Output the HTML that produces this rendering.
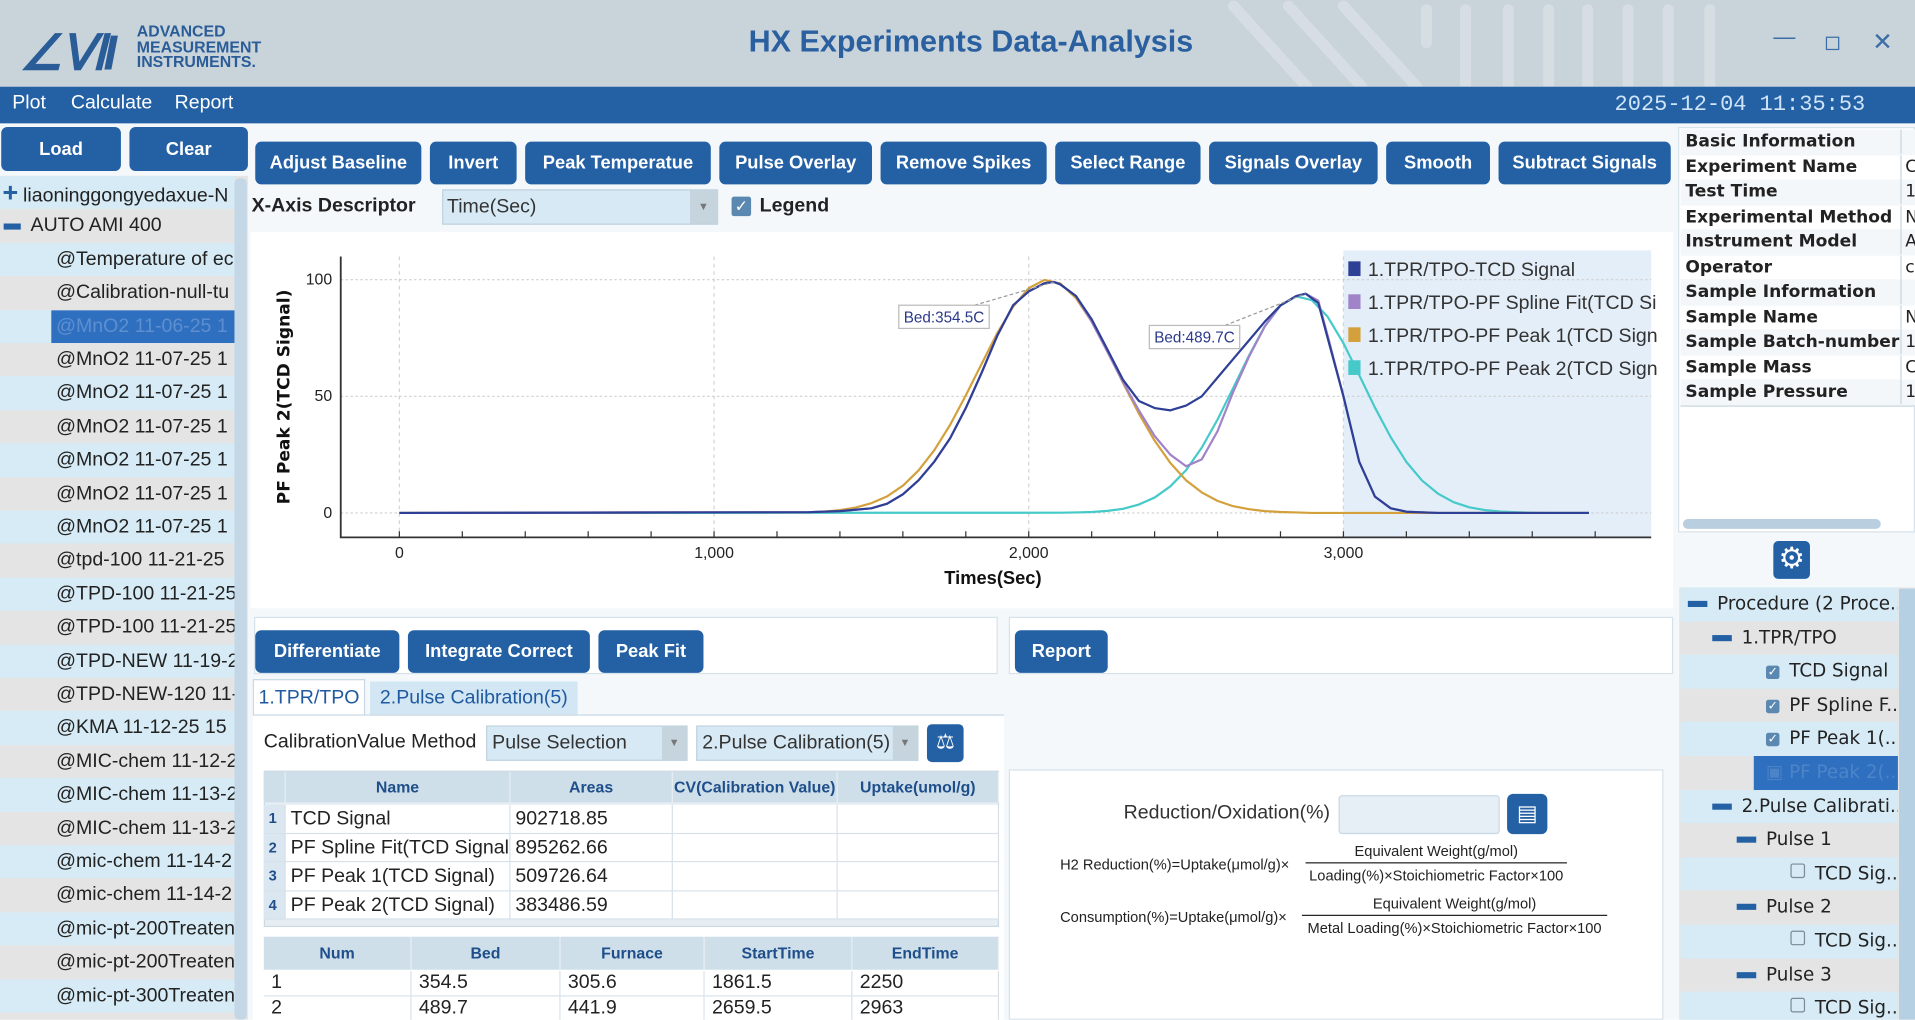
<!DOCTYPE html>
<html><head><meta charset="utf-8">
<style>
html,body{margin:0;padding:0;width:1915px;height:1020px;overflow:hidden;background:#fff;}
#root{position:absolute;left:0;top:0;width:1568px;height:835.2px;transform:scale(1.22130);transform-origin:0 0;font-family:"Liberation Sans Narrow","Liberation Sans",sans-serif;background:#f4f8fb;overflow:hidden;}
.a{position:absolute;box-sizing:border-box;}
.btn{position:absolute;box-sizing:border-box;background:#2360a4;color:#fff;font-weight:bold;font-size:15px;border-radius:5px;display:flex;align-items:center;justify-content:center;white-space:nowrap;}
.row{position:absolute;left:0;width:192px;height:27.4px;font-size:16px;color:#222;line-height:27px;white-space:nowrap;overflow:hidden;}
.info{position:absolute;left:1376px;width:192px;height:20.5px;font-family:"DejaVu Sans",sans-serif;font-weight:bold;font-size:14px;line-height:20px;color:#222;white-space:nowrap;overflow:hidden;border-bottom:1px solid #c9d6e0;}
.tr{position:absolute;left:1376px;width:178px;height:27.6px;font-family:"DejaVu Sans",sans-serif;font-size:15px;line-height:27px;color:#222;white-space:nowrap;overflow:hidden;}
.cell{position:absolute;box-sizing:border-box;font-size:16px;color:#222;white-space:nowrap;overflow:hidden;}
.hd{position:absolute;box-sizing:border-box;font-size:13px;font-weight:bold;color:#1f4f8a;text-align:center;white-space:nowrap;overflow:hidden;}
.fm{position:absolute;box-sizing:border-box;font-size:12px;color:#222;white-space:nowrap;}
</style></head><body>
<div id="root">
<div class="a" style="left:0;top:0;width:1568px;height:71px;background:#c9d3da;">
  <svg class="a" style="left:1000px;top:0" width="470" height="71">
    <g stroke="#d6dee3" stroke-width="9" stroke-linecap="round"><line x1="10" y1="5" x2="70" y2="71"/><line x1="55" y1="5" x2="115" y2="71"/><line x1="100" y1="5" x2="160" y2="71"/><line x1="168" y1="8" x2="168" y2="35"/><line x1="200" y1="8" x2="200" y2="71"/><line x1="235" y1="8" x2="235" y2="71"/><line x1="268" y1="8" x2="268" y2="71"/><line x1="300" y1="8" x2="300" y2="71"/><line x1="333" y1="8" x2="333" y2="71"/><line x1="366" y1="8" x2="366" y2="71"/><line x1="400" y1="8" x2="400" y2="71"/></g>
  </svg>
  <div class="a" style="left:16px;top:24px;font-size:40px;font-weight:bold;color:#2a5d98;letter-spacing:-2px;font-style:italic;line-height:40px">∠ⅥI</div>
  <div class="a" style="left:112px;top:20px;font-size:13px;font-weight:bold;color:#2a5d98;line-height:12.5px">ADVANCED<br>MEASUREMENT<br>INSTRUMENTS.</div>
  <div class="a" style="left:560px;top:20px;width:470px;text-align:center;font-size:25px;font-weight:bold;color:#2a5fa0">HX Experiments Data-Analysis</div>
  <div class="a" style="left:1452px;top:20px;font-size:18px;color:#3b6ea8">—</div>
  <div class="a" style="left:1495px;top:30px;width:11px;height:11px;border:1.5px solid #3b6ea8"></div>
  <div class="a" style="left:1533px;top:22px;font-size:20px;color:#3b6ea8">✕</div>
</div>
<div class="a" style="left:0;top:71px;width:1568px;height:30px;background:#2360a4;">
  <span class="a" style="left:10px;top:5px;color:#fff;font-size:16px">Plot</span>
  <span class="a" style="left:58px;top:5px;color:#fff;font-size:16px">Calculate</span>
  <span class="a" style="left:143px;top:5px;color:#fff;font-size:16px">Report</span>
  <span class="a" style="left:1322px;top:5px;color:#cfe4f7;font-size:18px;font-family:'Liberation Mono',monospace">2025-12-04 11:35:53</span>
</div>
<div class="btn" style="left:1px;top:104px;width:98px;height:36px">Load</div>
<div class="btn" style="left:106px;top:104px;width:97px;height:36px">Clear</div>
<div class="a" style="left:0;top:144px;width:203px;height:691px;background:#e4e4e4"></div>
<div class="a" style="left:192px;top:146px;width:10px;height:689px;background:#c3d7e6;border-radius:4px;z-index:2"></div>
<div class="a" style="left:206px;top:160px;font-size:16px;font-weight:bold;color:#222">X-Axis Descriptor</div>
<div class="a" style="left:362px;top:155px;width:226px;height:29px;background:#d7e9f4;border:1px solid #c0d2de;font-size:16px;line-height:27px;padding-left:3px;color:#333">Time(Sec)<span style="position:absolute;right:0;top:0;width:22px;height:27px;background:#c6d4de;color:#777;font-size:9px;text-align:center">▼</span></div>
<div class="a" style="left:599px;top:161px;width:16px;height:16px;background:#5b88b0;border-radius:2px;color:#fff;font-size:13px;line-height:16px;text-align:center">✓</div>
<div class="a" style="left:622px;top:160px;font-size:16px;font-weight:bold;color:#222">Legend</div>
<div class="a" style="left:205px;top:190px;width:1165px;height:308px;background:#fff"></div>
<svg id="chart" class="a" style="left:205px;top:190px" width="1165" height="308" viewBox="205 190 1165 308"></svg>
<div class="a" style="left:1374px;top:104px;width:194px;height:332px;background:#fff;border:1px solid #d8e2ea"></div>
<div class="a" style="left:1378px;top:425px;width:162px;height:8px;background:#b9cfe0;border-radius:4px"></div>
<div class="a" style="left:1452px;top:443px;width:30px;height:31px;background:#2360a4;border-radius:4px;color:#fff;font-size:24px;line-height:30px;text-align:center">⚙</div>
<div class="a" style="left:1375px;top:481px;width:193px;height:354px;background:#e4e4e4"></div>
<div class="a" style="left:1555px;top:482px;width:13px;height:353px;background:#b5cfe3;z-index:2"></div>
<div class="a" style="left:208px;top:505px;width:609px;height:47px;background:#fff;border:1px solid #d6e1ea"></div>
<div class="btn" style="left:209px;top:516px;width:118px;height:35px">Differentiate</div>
<div class="btn" style="left:334px;top:516px;width:149px;height:35px">Integrate Correct</div>
<div class="btn" style="left:490px;top:516px;width:86px;height:35px">Peak Fit</div>
<div class="a" style="left:826px;top:505px;width:544px;height:47px;background:#fff;border:1px solid #d6e1ea"></div>
<div class="btn" style="left:831px;top:516px;width:76px;height:35px">Report</div>
<div class="a" style="left:207px;top:556px;width:92px;height:30px;background:#fff;border:1px solid #c8d8e4;border-bottom:none;font-size:16px;color:#1f5aa0;text-align:center;line-height:30px">1.TPR/TPO</div>
<div class="a" style="left:303px;top:558px;width:170px;height:27px;background:#d3e6f4;font-size:16px;color:#1f5aa0;text-align:center;line-height:27px">2.Pulse Calibration(5)</div>
<div class="a" style="left:207px;top:585px;width:615px;height:250px;background:#fff;border-top:1px solid #c8d8e4"></div>
<div class="a" style="left:216px;top:599px;font-size:16px;color:#222">CalibrationValue Method</div>
<div class="a" style="left:398px;top:594px;width:165px;height:29px;background:#d7e9f4;border:1px solid #c0d2de;font-size:16px;line-height:27px;padding-left:4px;color:#333">Pulse Selection<span style="position:absolute;right:0;top:0;width:20px;height:27px;background:#c6d4de;color:#777;font-size:9px;text-align:center">▼</span></div>
<div class="a" style="left:570px;top:594px;width:182px;height:29px;background:#d7e9f4;border:1px solid #c0d2de;font-size:16px;line-height:27px;padding-left:4px;color:#333">2.Pulse Calibration(5)<span style="position:absolute;right:0;top:0;width:20px;height:27px;background:#c6d4de;color:#777;font-size:9px;text-align:center">▼</span></div>
<div class="a" style="left:759px;top:593px;width:30px;height:31px;background:#2360a4;border-radius:4px;color:#fff;font-size:17px;line-height:30px;text-align:center">⚖</div>
<div class="a" style="left:826px;top:630px;width:536px;height:205px;background:#fff;border:1px solid #d6e1ea"></div>
<div class="a" style="left:920px;top:657px;font-size:16px;color:#333">Reduction/Oxidation(%)</div>
<div class="a" style="left:1096px;top:651px;width:132px;height:32px;background:#e6eff6;border:1px solid #c8d8e4;border-radius:3px"></div>
<div class="a" style="left:1234px;top:650px;width:33px;height:33px;background:#2360a4;border-radius:5px;color:#fff;font-size:18px;line-height:33px;text-align:center">▤</div>
<div class="fm" style="left:868px;top:701px">H2 Reduction(%)=Uptake(μmol/g)×</div>
<div class="fm" style="left:1069px;top:690px;width:214px;text-align:center;border-bottom:1px solid #222;padding-bottom:2px">Equivalent Weight(g/mol)</div>
<div class="fm" style="left:1059px;top:710px;width:234px;text-align:center">Loading(%)×Stoichiometric Factor×100</div>
<div class="fm" style="left:868px;top:744px">Consumption(%)=Uptake(μmol/g)×</div>
<div class="fm" style="left:1066px;top:733px;width:250px;text-align:center;border-bottom:1px solid #222;padding-bottom:2px">Equivalent Weight(g/mol)</div>
<div class="fm" style="left:1056px;top:753px;width:270px;text-align:center">Metal Loading(%)×Stoichiometric Factor×100</div>
</div>
<script>
const xTicks = [0, 1000, 2000, 3000];
const xTickLabels = ["0", "1,000", "2,000", "3,000"];
const yTicks = [0, 50, 100];
const yTickLabels = ["0", "50", "100"];
const seriesNames = ["1.TPR/TPO-TCD Signal", "1.TPR/TPO-PF Spline Fit(TCD Si", "1.TPR/TPO-PF Peak 1(TCD Sign", "1.TPR/TPO-PF Peak 2(TCD Sign"];
const timesTCD = [0,1300,1400,1500,1550,1600,1650,1700,1750,1800,1850,1900,1950,2000,2050,2080,2100,2150,2200,2250,2300,2350,2400,2450,2500,2550,2600,2650,2700,2750,2800,2850,2880,2920,2950,3000,3050,3100,3150,3200,3300,3780];
const valuesTCD = [0,0.3,0.8,2,4,8,14,22,32,45,60,76,89,95,98.5,99,98,93,83,70,57,48,45,44,46,50,58,66,74,82,89,93,94,90,75,50,22,7,2,0.5,0,0];
const timesSpline = [0,1300,1400,1500,1550,1600,1650,1700,1750,1800,1850,1900,1950,2000,2050,2080,2100,2150,2200,2250,2300,2350,2400,2450,2500,2550,2600,2650,2700,2750,2800,2850,2880,2920,2950,3000,3050,3100,3150,3200,3300,3780];
const valuesSpline = [0,0.3,0.8,2,4,8,14,22,32,45,60,76,89,95,98.5,99,98,93,82,69,56,44,33,25,20,23,35,52,67,80,89,93,94,91,76,50,22,7,2,0.5,0,0];
const timesPeak1 = [0,1300,1350,1400,1450,1500,1550,1600,1650,1700,1750,1800,1850,1900,1950,2000,2050,2100,2150,2200,2250,2300,2350,2400,2450,2500,2550,2600,2650,2700,2750,2800,2850,2900,3780];
const valuesPeak1 = [0,0.3,0.6,1.2,2.3,4.2,7.1,11.7,18.2,26.9,37.7,50.4,63.9,77.1,88.4,96.4,99.9,98.4,92.1,82.0,69.3,55.7,42.6,31.0,21.4,14.0,8.8,5.2,2.9,1.6,0.8,0.4,0.2,0,0];
const timesPeak2 = [0,2100,2150,2200,2250,2300,2350,2400,2450,2500,2550,2600,2650,2700,2750,2800,2850,2900,2950,3000,3050,3100,3150,3200,3250,3300,3350,3400,3450,3500,3550,3600,3650,3780];
const valuesPeak2 = [0,0.1,0.2,0.4,0.9,1.8,3.6,6.6,11.4,18.4,28.0,40.0,53.6,67.5,80.0,88.9,92.9,91.2,84.1,72.8,59.1,45.2,32.5,21.9,13.9,8.3,4.6,2.4,1.2,0.6,0.3,0.1,0,0];
const annotTimes = [2080, 2880];
const annotValues = [99, 94];
const annotLabels = ["Bed:354.5C", "Bed:489.7C"];

const NS = "http://www.w3.org/2000/svg";
const svg = document.getElementById('chart');
const X0 = 327, X1 = 1100, Y0 = 420, Y1 = 229;
function xs(t){ return X0 + t * (X1 - X0) / 3000; }
function ys(v){ return Y0 - v * (Y0 - Y1) / 100; }
function mk(tag, attrs){ const e = document.createElementNS(NS, tag); for (const k in attrs) e.setAttribute(k, attrs[k]); svg.appendChild(e); return e; }
const FF = 'Liberation Sans Narrow, Liberation Sans, sans-serif';

let lb = mk('rect', {x: xs(3000), y: 205, width: 1352 - xs(3000), height: 235, fill: '#e3eef8'});


xTicks.forEach((t, i) => {
  const g = mk('line', {x1: xs(t), x2: xs(t), y1: 210, y2: 440, stroke: '#d4d4d4', 'stroke-dasharray': '3,3'});
  
  
  const tl = mk('text', {x: xs(t), y: 457, 'text-anchor': 'middle', 'font-size': 13, fill: '#222', 'font-family': FF});
  tl.textContent = xTickLabels[i];
  
  
});
for (let t = 0; t <= 3800; t += 200) {
  const tk = mk('line', {x1: xs(t), x2: xs(t), y1: 440, y2: 435, stroke: '#333'});
  
  
}
yTicks.forEach((v, i) => {
  const g = mk('line', {x1: 279, x2: 1352, y1: ys(v), y2: ys(v), stroke: '#cfcfcf', 'stroke-dasharray': '2,2'});
  
  
  const tl = mk('text', {x: 272, y: ys(v) + 4, 'text-anchor': 'end', 'font-size': 13, fill: '#222', 'font-family': FF});
  tl.textContent = yTickLabels[i];
  
  
});
let ax = mk('path', {d: 'M279,210 L279,440 L1352,440', fill: 'none', stroke: '#333', 'stroke-width': 1.5});


let xt = mk('text', {x: 813, y: 478, 'text-anchor': 'middle', 'font-size': 15, 'font-weight': 'bold', fill: '#111', 'font-family': FF});
xt.textContent = 'Times(Sec)';


let yt = mk('text', {x: 0, y: 0, transform: 'translate(237,325) rotate(-90)', 'text-anchor': 'middle', 'font-size': 14, 'font-weight': 'bold', fill: '#111', 'font-family': 'DejaVu Sans, sans-serif'});
yt.textContent = 'PF Peak 2(TCD Signal)';



const colors = ['#2e3f96', '#a083c8', '#d3a03c', '#45c9c9'];
const allT = [timesTCD, timesSpline, timesPeak1, timesPeak2];
const allV = [valuesTCD, valuesSpline, valuesPeak1, valuesPeak2];
const lineNames = ['tcd-signal-line', 'spline-fit-line', 'peak-1-line', 'peak-2-line'];
[3, 2, 1, 0].forEach(i => {
  const T = allT[i], V = allV[i];
  let d = '';
  T.forEach((t, k) => { d += (k ? 'L' : 'M') + xs(t).toFixed(1) + ',' + ys(V[k]).toFixed(1); });
  const p = mk('path', {d: d, fill: 'none', stroke: colors[i], 'stroke-width': 1.8, 'stroke-linejoin': 'round'});
  
  
});
const boxOff = [[-127, 19], [-128, 26]];
annotTimes.forEach((t, i) => {
  const px = xs(t), py = ys(annotValues[i]);
  const bx = px + boxOff[i][0], by = py + boxOff[i][1];
  const ln = mk('line', {x1: bx + 62, y1: by, x2: px, y2: py, stroke: '#999', 'stroke-dasharray': '3,2'});
  
  
  const r = mk('rect', {x: bx, y: by, width: 74, height: 19, fill: '#fff', stroke: '#bbb'});
  
  
  const tx = mk('text', {x: bx + 37, y: by + 14, 'text-anchor': 'middle', 'font-size': 12.5, fill: '#2b3a8a', 'font-family': FF});
  tx.textContent = annotLabels[i];
  
  
});
seriesNames.forEach((n, i) => {
  const y = 221 + i * 27;
  const s = mk('rect', {x: 1104, y: y - 7, width: 10, height: 12, fill: colors[i]});
  
  
  const t = mk('text', {x: 1120, y: y + 5, 'font-size': 16, fill: '#333', 'font-family': FF});
  t.textContent = n;
  
  
});

const root = document.getElementById('root');
function div(cls, style, html){ const d = document.createElement('div'); d.className = cls; d.style.cssText = style; d.innerHTML = html; root.appendChild(d); return d; }
const tools = [["Adjust Baseline",209,136],["Invert",352,71],["Peak Temperatue",430,152],["Pulse Overlay",589,125],["Remove Spikes",721,136],["Select Range",864,119],["Signals Overlay",990,138],["Smooth",1135,85],["Subtract Signals",1227,141]];
tools.forEach(b => {
  const d = div('btn', `left:${b[1]}px;top:116px;width:${b[2]}px;height:35px`, b[0]);
  
  
});
const treeItems = ["liaoninggongyedaxue-N","AUTO AMI 400","@Temperature of  ec","@Calibration-null-tu","@MnO2 11-06-25 1","@MnO2 11-07-25 1","@MnO2 11-07-25 1","@MnO2 11-07-25 1","@MnO2 11-07-25 1","@MnO2 11-07-25 1","@MnO2 11-07-25 1","@tpd-100 11-21-25","@TPD-100 11-21-25","@TPD-100 11-21-25","@TPD-NEW 11-19-2","@TPD-NEW-120 11-","@KMA 11-12-25 15","@MIC-chem 11-12-2","@MIC-chem 11-13-2","@MIC-chem 11-13-2","@mic-chem 11-14-2","@mic-chem 11-14-2","@mic-pt-200Treaten","@mic-pt-200Treaten","@mic-pt-300Treaten"];
treeItems.forEach((n, i) => {
  const top = 144 + i * 27.4;
  const bg = i % 2 === 0 ? '#d6ebf5' : '#e4e4e4';
  let html;
  if (i === 0) html = '<span style="color:#2360a4;font-weight:bold;font-size:22px;margin:0 4px 0 2px">+</span>' + n;
  else if (i === 1) html = '<span style="display:inline-block;width:14px;height:5px;background:#2360a4;vertical-align:middle;margin:0 8px 0 3px"></span>' + n;
  else html = '<span style="margin-left:46px"></span>' + n;
  const d = div('row', `top:${top}px;background:${bg}`, html);
  if (i === 4) d.innerHTML = '<span style="position:absolute;left:42px;top:0;width:150px;height:27px;background:#2f6fc0;color:#5d8fd0;padding-left:4px">' + n + '</span>';
  
  
});
const infoRows = ["Basic Information","Experiment Name","Test Time","Experimental Method","Instrument Model","Operator","Sample Information","Sample Name","Sample Batch-number","Sample Mass","Sample Pressure"];
const infoVals = ["","C","1","N","A","c","","N","1","C","1"];
infoRows.forEach((n, i) => {
  const d = div('info', `top:${106 + i * 20.5}px;background:${i % 2 ? '#fff' : '#f4f7f9'}`, '<span style="padding-left:4px">' + n + '</span><span style="position:absolute;left:180px;top:0;width:12px;height:20px;border-left:1px solid #c9d6e0;font-weight:normal;padding-left:3px;background:inherit">' + infoVals[i] + '</span>');
  
  
});
const pItems = [["Procedure (2 Proce...",0,'m'],["1.TPR/TPO",20,'m'],["TCD Signal",64,'c'],["PF Spline F...",64,'c'],["PF Peak 1(...",64,'c'],["PF Peak 2(...",64,'s'],["2.Pulse Calibrati...",20,'m'],["Pulse 1",40,'m'],["TCD Sig...",84,'u'],["Pulse 2",40,'m'],["TCD Sig...",84,'u'],["Pulse 3",40,'m'],["TCD Sig...",84,'u']];
pItems.forEach((p, i) => {
  const bg = i % 2 === 0 ? '#d6ebf5' : '#e4e4e4';
  let icon = '';
  if (p[2] === 'm') icon = '<span style="display:inline-block;width:16px;height:5px;background:#2360a4;vertical-align:middle;margin-right:8px"></span>';
  if (p[2] === 'c') icon = '<span style="display:inline-block;width:11px;height:11px;background:#5b88b0;border-radius:2px;color:#fff;font-size:10px;line-height:11px;text-align:center;margin-right:8px;vertical-align:1px">✓</span>';
  if (p[2] === 'u') icon = '<span style="display:inline-block;width:10px;height:10px;border:1px solid #7a8a96;border-radius:2px;margin-right:8px;vertical-align:1px"></span>';
  let html = `<span style="padding-left:${p[1] + 6}px"></span>` + icon + p[0];
  const d = div('tr', `top:${481 + i * 27.6}px;background:${bg}`, html);
  if (p[2] === 's') d.innerHTML = `<span style="position:absolute;left:60px;top:0;width:118px;height:28px;background:#2f6fc0;color:#4d84c8;padding-left:10px">▣ ${p[0]}</span>`;
  
  
});
const t1Cols = [["",216,18],["Name",234,184],["Areas",418,133],["CV(Calibration Value)",551,135],["Uptake(umol/g)",686,132]];
const t1Rows = [["1","TCD Signal","902718.85","",""],["2","PF Spline Fit(TCD Signal)","895262.66","",""],["3","PF Peak 1(TCD Signal)","509726.64","",""],["4","PF Peak 2(TCD Signal)","383486.59","",""]];
const tb = div('a', 'left:216px;top:631px;width:602px;height:128px;background:#e6eef4;border:1px solid #cbd9e4', '');


t1Cols.forEach(c => {
  const h = div('hd', `left:${c[1]}px;top:632px;width:${c[2]}px;height:25px;line-height:25px;background:#cfdfea;border-right:1px solid #e8eef3`, c[0]);
  
  
});
t1Rows.forEach((r, ri) => {
  t1Cols.forEach((c, ci) => {
    const cl = div('cell', `left:${c[1]}px;top:${659 + ri * 23.5}px;width:${c[2]}px;height:23.5px;line-height:23px;padding-left:4px;background:${ci ? '#fff' : '#dbe7f0'};border-right:1px solid #d6e1ea;border-bottom:1px solid #d6e1ea;font-size:${ci ? 16 : 12}px;color:${ci ? '#222' : '#1f4f8a'};font-weight:${ci ? 'normal' : 'bold'}`, r[ci]);
    
    
  });
});
const t2Cols = [["Num",216,121],["Bed",337,122],["Furnace",459,118],["StartTime",577,121],["EndTime",698,120]];
const t2Rows = [["1","354.5","305.6","1861.5","2250"],["2","489.7","441.9","2659.5","2963"]];
t2Cols.forEach(c => {
  const h = div('hd', `left:${c[1]}px;top:767px;width:${c[2]}px;height:27px;line-height:27px;background:#cfdfea;border-right:1px solid #e8eef3`, c[0]);
  
  
});
t2Rows.forEach((r, ri) => {
  t2Cols.forEach((c, ci) => {
    const cl = div('cell', `left:${c[1]}px;top:${795 + ri * 21}px;width:${c[2]}px;height:21px;line-height:20px;padding-left:6px;background:#fff;border-right:1px solid #d6e1ea;border-bottom:1px solid #d6e1ea`, r[ci]);
    
    
  });
});
</script>
</body></html>
